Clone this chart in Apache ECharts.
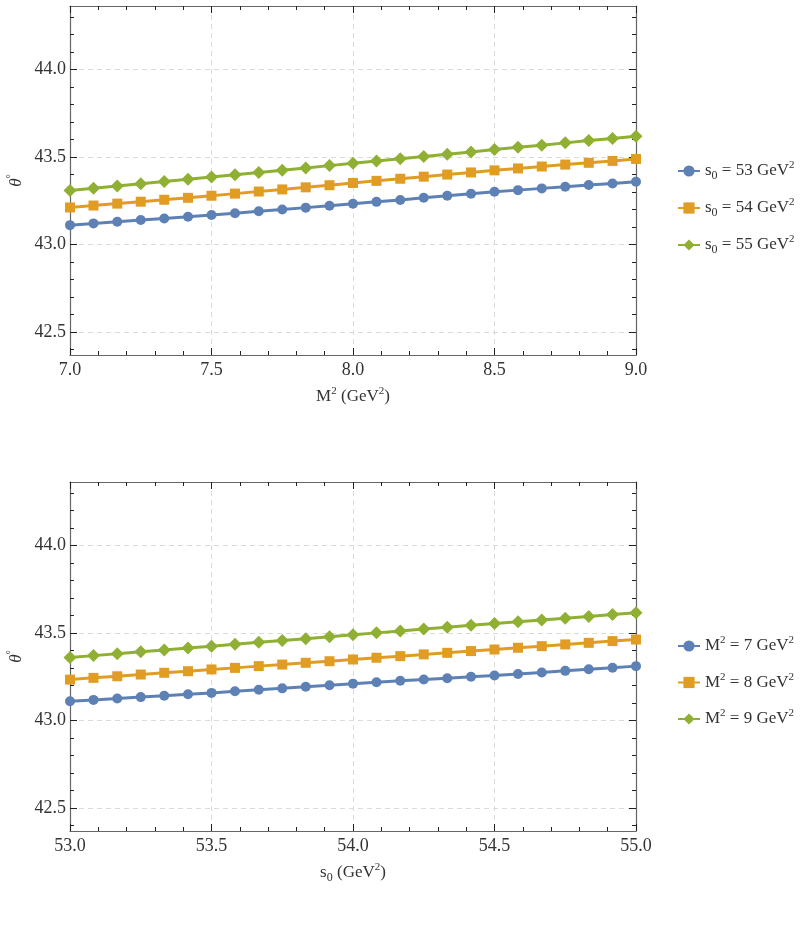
<!DOCTYPE html>
<html>
<head>
<meta charset="utf-8">
<script src="https://cdn.jsdelivr.net/npm/echarts@6/dist/echarts.min.js"></script>
<style>
  html, body { margin: 0; padding: 0; background: #fff; }
  #chart { width: 806px; height: 931px; }
</style>
</head>
<body>
<div id="chart"></div>
<script>
// x values (M^2 in GeV^2, top panel; s0 in GeV^2, bottom panel)
const m2Values = [7.000, 7.083, 7.167, 7.250, 7.333, 7.417, 7.500, 7.583, 7.667, 7.750, 7.833, 7.917, 8.000,
  8.083, 8.167, 8.250, 8.333, 8.417, 8.500, 8.583, 8.667, 8.750, 8.833, 8.917, 9.000]
const s0Values = [53.000, 53.083, 53.167, 53.250, 53.333, 53.417, 53.500, 53.583, 53.667, 53.750, 53.833, 53.917, 54.000,
  54.083, 54.167, 54.250, 54.333, 54.417, 54.500, 54.583, 54.667, 54.750, 54.833, 54.917, 55.000]

// top panel: theta vs M^2 for fixed s0
const s0Levels = [53, 54, 55]
const thetaS053 = [43.112, 43.122, 43.131, 43.141, 43.150, 43.160, 43.170, 43.180, 43.191, 43.201, 43.212, 43.223, 43.234,
  43.245, 43.256, 43.268, 43.280, 43.291, 43.303, 43.312, 43.322, 43.331, 43.341, 43.350, 43.360]
const thetaS054 = [43.213, 43.224, 43.235, 43.246, 43.257, 43.268, 43.280, 43.292, 43.304, 43.316, 43.328, 43.340, 43.353,
  43.365, 43.377, 43.389, 43.401, 43.413, 43.425, 43.436, 43.447, 43.458, 43.468, 43.479, 43.490]
const thetaS055 = [43.310, 43.323, 43.336, 43.349, 43.361, 43.374, 43.387, 43.400, 43.413, 43.426, 43.439, 43.452, 43.465,
  43.478, 43.491, 43.504, 43.517, 43.530, 43.544, 43.557, 43.569, 43.582, 43.595, 43.607, 43.620]

// bottom panel: theta vs s0 for fixed M^2
const m2Levels = [7, 8, 9]
const thetaM27 = [43.111, 43.119, 43.127, 43.135, 43.143, 43.151, 43.159, 43.168, 43.177, 43.185, 43.194, 43.203, 43.212,
  43.220, 43.228, 43.236, 43.243, 43.251, 43.258, 43.267, 43.276, 43.285, 43.294, 43.303, 43.312]
const thetaM28 = [43.235, 43.245, 43.254, 43.264, 43.274, 43.283, 43.293, 43.302, 43.312, 43.321, 43.331, 43.340, 43.350,
  43.360, 43.369, 43.379, 43.388, 43.398, 43.407, 43.417, 43.426, 43.436, 43.445, 43.455, 43.464]
const thetaM29 = [43.361, 43.372, 43.383, 43.394, 43.404, 43.415, 43.426, 43.437, 43.448, 43.459, 43.469, 43.480, 43.491,
  43.502, 43.513, 43.524, 43.534, 43.545, 43.556, 43.566, 43.576, 43.586, 43.596, 43.607, 43.617]

// tick labels
const yMajorTicks = [42.5, 43.0, 43.5, 44.0]
const yMinorTicks = [42.4, 42.6, 42.7, 42.8, 42.9, 43.1, 43.2, 43.3, 43.4, 43.6, 43.7, 43.8, 43.9, 44.1, 44.2, 44.3]

const serif = "'Liberation Serif', 'Times New Roman', serif"
const textColor = '#333'
const frameColor = '#666'
const colors = ['#5E81B5', '#E19C24', '#8FB032']
const symbols = ['circle', 'rect', 'diamond']
const symbolSizes = [10, 10, 13]

const rich = {
  b: { fontFamily: serif, fontSize: 17, color: textColor, lineHeight: 22 },
  sup: { fontFamily: serif, fontSize: 11, color: textColor, lineHeight: 22, verticalAlign: 'top' },
  sub: { fontFamily: serif, fontSize: 12, color: textColor, lineHeight: 22, verticalAlign: 'bottom' },
  i: { fontFamily: serif, fontSize: 17, fontStyle: 'italic', color: textColor, lineHeight: 22 }
}

function pairs (xs, ys) {
  return xs.map((x, i) => [x, ys[i]])
}

function xAxes (gi, min, max, nameRich) {
  return [
    {
      gridIndex: gi,
      type: 'value',
      position: 'bottom',
      min: min,
      max: max,
      interval: 0.5,
      axisLine: { show: true, onZero: false, lineStyle: { color: frameColor, width: 1.2 } },
      axisTick: { show: true, inside: true, length: 7, lineStyle: { color: '#222' } },
      minorTick: { show: true, splitNumber: 5, length: 4, lineStyle: { color: '#222' } },
      axisLabel: { fontFamily: serif, fontSize: 18, color: textColor, margin: 6, formatter: v => v.toFixed(1) },
      splitLine: { show: true, lineStyle: { type: [5, 4], color: '#dadada' } },
      name: nameRich,
      nameLocation: 'middle',
      nameGap: 31,
      nameTextStyle: { rich: rich }
    },
    {
      gridIndex: gi,
      type: 'value',
      position: 'top',
      min: min,
      max: max,
      interval: 0.5,
      axisLine: { show: true, onZero: false, lineStyle: { color: frameColor, width: 1.2 } },
      axisTick: { show: true, inside: true, length: 7, lineStyle: { color: '#222' } },
      minorTick: { show: true, splitNumber: 5, length: 4, lineStyle: { color: '#222' } },
      axisLabel: { show: false },
      splitLine: { show: false }
    }
  ]
}

function yAxes (gi) {
  const base = {
    gridIndex: gi,
    type: 'value',
    min: 42.37,
    max: 44.364
  }
  return [
    Object.assign({}, base, {
      position: 'left',
      axisLine: { show: true, onZero: false, lineStyle: { color: frameColor, width: 1.2 } },
      axisTick: { show: true, inside: true, length: 7, customValues: yMajorTicks, lineStyle: { color: '#222' } },
      axisLabel: { customValues: yMajorTicks, fontFamily: serif, fontSize: 18, color: textColor, margin: 4, formatter: v => v.toFixed(1) },
      splitLine: { show: true, lineStyle: { type: [5, 4], color: '#dadada' } },
      name: '{i|θ}{sup|°}',
      nameLocation: 'middle',
      nameGap: 42,
      nameMoveOverlap: false,
      nameRotate: 90,
      nameTextStyle: { rich: rich }
    }),
    Object.assign({}, base, {
      position: 'left',
      axisLine: { show: false },
      axisTick: { show: true, inside: true, length: 4, customValues: yMinorTicks, lineStyle: { color: '#222' } },
      axisLabel: { show: false },
      splitLine: { show: false }
    }),
    Object.assign({}, base, {
      position: 'right',
      axisLine: { show: true, onZero: false, lineStyle: { color: frameColor, width: 1.2 } },
      axisTick: { show: true, inside: true, length: 7, customValues: yMajorTicks, lineStyle: { color: '#222' } },
      axisLabel: { show: false },
      splitLine: { show: false }
    }),
    Object.assign({}, base, {
      position: 'right',
      axisLine: { show: false },
      axisTick: { show: true, inside: true, length: 4, customValues: yMinorTicks, lineStyle: { color: '#222' } },
      axisLabel: { show: false },
      splitLine: { show: false }
    })
  ]
}

function makeSeries (name, k, xs, ys, xi, yi) {
  return {
    name: name,
    type: 'line',
    xAxisIndex: xi,
    yAxisIndex: yi,
    data: pairs(xs, ys),
    symbol: symbols[k],
    symbolSize: symbolSizes[k],
    showSymbol: true,
    color: colors[k],
    lineStyle: { width: 3, color: colors[k] },
    itemStyle: { color: colors[k] },
    z: 3 + k
  }
}

const topNames = s0Levels.map(v => 's0 = ' + v)
const botNames = m2Levels.map(v => 'M2 = ' + v)

const chart = echarts.init(document.getElementById('chart'))
const option = {
  backgroundColor: '#fff',
  animation: false,
  grid: [
    { left: 70, top: 6, width: 566, height: 349, outerBoundsMode: 'none', containLabel: false },
    { left: 70, top: 482, width: 566, height: 349, outerBoundsMode: 'none', containLabel: false }
  ],
  xAxis: [].concat(
    xAxes(0, 7, 9, '{b|M}{sup|2}{b| (GeV}{sup|2}{b|)}'),
    xAxes(1, 53, 55, '{b|s}{sub|0}{b| (GeV}{sup|2}{b|)}')
  ),
  yAxis: [].concat(yAxes(0), yAxes(1)),
  legend: [
    {
      data: topNames,
      orient: 'vertical',
      left: 672,
      top: 155,
      itemWidth: 22,
      itemHeight: 14,
      itemGap: 15,
      textStyle: { rich: rich },
      formatter: n => '{b|s}{sub|0}{b| = ' + n.split('= ')[1] + ' GeV}{sup|2}'
    },
    {
      data: botNames,
      orient: 'vertical',
      left: 672,
      top: 630,
      itemWidth: 22,
      itemHeight: 14,
      itemGap: 17,
      textStyle: { rich: rich },
      formatter: n => '{b|M}{sup|2}{b| = ' + n.split('= ')[1] + ' GeV}{sup|2}'
    }
  ],
  series: [
    makeSeries(topNames[0], 0, m2Values, thetaS053, 0, 0),
    makeSeries(topNames[1], 1, m2Values, thetaS054, 0, 0),
    makeSeries(topNames[2], 2, m2Values, thetaS055, 0, 0),
    makeSeries(botNames[0], 0, s0Values, thetaM27, 2, 4),
    makeSeries(botNames[1], 1, s0Values, thetaM28, 2, 4),
    makeSeries(botNames[2], 2, s0Values, thetaM29, 2, 4)
  ]
}
chart.setOption(option)
</script>
</body>
</html>
